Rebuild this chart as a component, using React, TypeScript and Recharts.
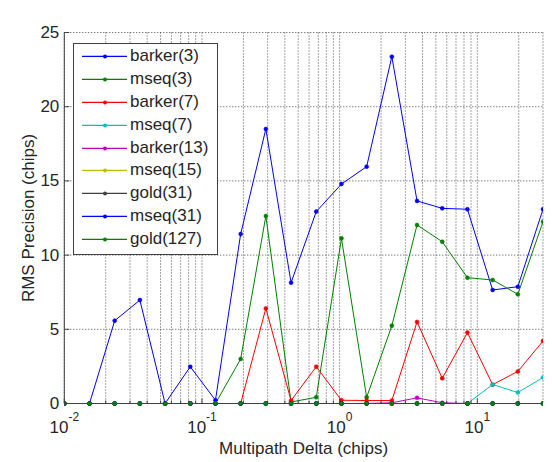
import React from 'react';
import { LineChart, Line, XAxis, YAxis, CartesianGrid, Legend } from 'recharts';

// Multipath delta (chips), log-spaced sample points
const delta = [0.01, 0.01524, 0.02323, 0.0354, 0.05396, 0.08224, 0.1253, 0.191, 0.2911, 0.4437, 0.6763, 1.031, 1.571, 2.394, 3.649, 5.562, 8.476, 12.92, 19.69, 30];

const barker3 = [0, 0, 5.58, 6.97, 0, 2.48, 0.22, 11.42, 18.5, 8.14, 12.93, 14.79, 15.96, 23.37, 13.65, 13.15, 13.09, 7.65, 7.87, 13.09];
const mseq3 = [0, 0, 0, 0, 0, 0, 0, 3.0, 12.63, 0.1, 0.42, 11.13, 0.42, 5.24, 12.03, 10.9, 8.48, 8.32, 7.36, 12.25];
const barker7 = [0, 0, 0, 0, 0, 0, 0, 0, 6.41, 0.2, 2.48, 0.22, 0.2, 0.2, 5.5, 1.7, 4.78, 1.27, 2.16, 4.21];
const mseq7 = [0, 0, 0, 0, 0, 0, 0, 0, 0, 0, 0, 0, 0, 0, 0, 0, 0, 1.28, 0.74, 1.75];
const barker13 = [0, 0, 0, 0, 0, 0, 0, 0, 0, 0, 0, 0, 0, 0.05, 0.38, 0.05, 0, 0, 0, 0];
const mseq15 = [0, 0, 0, 0, 0, 0, 0, 0, 0, 0, 0, 0, 0, 0, 0, 0, 0, 0, 0, 0];
const gold31 = [0, 0, 0, 0, 0, 0, 0, 0, 0, 0, 0, 0, 0, 0, 0, 0, 0, 0, 0, 0];
const mseq31 = [0, 0, 0, 0, 0, 0, 0, 0, 0, 0, 0, 0, 0, 0, 0, 0, 0, 0, 0, 0];
const gold127 = [0, 0, 0, 0, 0, 0, 0, 0, 0, 0, 0, 0, 0, 0, 0, 0, 0, 0, 0, 0];

const seriesNames = ['barker(3)', 'mseq(3)', 'barker(7)', 'mseq(7)', 'barker(13)', 'mseq(15)', 'gold(31)', 'mseq(31)', 'gold(127)'];
const seriesKeys = ['barker3', 'mseq3', 'barker7', 'mseq7', 'barker13', 'mseq15', 'gold31', 'mseq31', 'gold127'];
const seriesValues = [barker3, mseq3, barker7, mseq7, barker13, mseq15, gold31, mseq31, gold127];
const seriesColors = ['#0000ff', '#008000', '#ff0000', '#00bfbf', '#bf00bf', '#bfbf00', '#404040', '#0000ff', '#008000'];

const xTicks = [0.01, 0.02, 0.03, 0.04, 0.05, 0.06, 0.07, 0.08, 0.09, 0.1, 0.2, 0.3, 0.4, 0.5, 0.6, 0.7, 0.8, 0.9, 1, 2, 3, 4, 5, 6, 7, 8, 9, 10, 20];
const decadeTicks = [0.01, 0.1, 1, 10];
const decadeExponents = ['-2', '-1', '0', '1'];
const yTicks = [0, 5, 10, 15, 20, 25];

const rows = delta.map((d, i) => {
  const r: any = { delta: d };
  seriesKeys.forEach((k, j) => {
    r[k] = seriesValues[j][i];
  });
  return r;
});

const FONT = "'Liberation Sans', Arial, Helvetica, sans-serif";
const TEXT = '#262626';
const AXIS = '#404040';

const BottomTick = (props: any) => {
  const { x, y, payload } = props;
  const idx = decadeTicks.indexOf(payload.value);
  const major = idx >= 0;
  return (
    <g>
      <line x1={x} x2={x} y1={y} y2={y - (major ? 5 : 3)} stroke={AXIS} strokeWidth={1} />
      {major && (
        <text x={x} y={y + 29.5} textAnchor="middle" fontFamily={FONT} fontSize={17} fill={TEXT}>
          <tspan>10</tspan>
          <tspan fontSize={12} dy={-12}>{decadeExponents[idx]}</tspan>
        </text>
      )}
    </g>
  );
};

const TopTick = (props: any) => {
  const { x, y, payload } = props;
  const major = decadeTicks.indexOf(payload.value) >= 0;
  return <line x1={x} x2={x} y1={y} y2={y + (major ? 5 : 3)} stroke={AXIS} strokeWidth={1} />;
};

const LeftTick = (props: any) => {
  const { x, y, payload } = props;
  return (
    <g>
      <line x1={x} x2={x + 5} y1={y} y2={y} stroke={AXIS} strokeWidth={1} />
      <text x={x - 5} y={y} textAnchor="end" dominantBaseline="central" fontFamily={FONT} fontSize={17} fill={TEXT}>
        {payload.value}
      </text>
    </g>
  );
};

const RightTick = (props: any) => {
  const { x, y } = props;
  return <line x1={x} x2={x - 5} y1={y} y2={y} stroke={AXIS} strokeWidth={1} />;
};

const renderLegend = (props: any) => {
  const payload = (props.payload || [])
    .slice()
    .sort((a: any, b: any) => seriesKeys.indexOf(a.dataKey) - seriesKeys.indexOf(b.dataKey));
  return (
    <div
      style={{
        width: 145,
        height: 212,
        boxSizing: 'border-box',
        border: `1px solid ${AXIS}`,
        background: '#fff',
        paddingTop: 1,
        fontFamily: FONT,
        fontSize: 17,
        color: TEXT,
      }}
    >
      {payload.map((entry: any, i: number) => (
        <div key={i} style={{ height: 22.9, display: 'flex', alignItems: 'center', whiteSpace: 'nowrap' }}>
          <svg width={56} height={22.9} style={{ flex: 'none' }}>
            <line x1={8} x2={53} y1={11.45} y2={11.45} stroke={entry.color} strokeWidth={1.2} />
            <circle cx={31} cy={11.45} r={2} fill={entry.color} />
          </svg>
          <span style={{ lineHeight: '22.9px' }}>{entry.value}</span>
        </div>
      ))}
    </div>
  );
};

export default function App() {
  return (
    <div style={{ position: 'absolute', left: 0, top: 0, width: 552, height: 462, background: '#fff' }}>
      <LineChart width={552} height={462} data={rows} margin={{ top: 32.5, right: 9, bottom: 0, left: 0 }}>
        <CartesianGrid stroke="#4a4a4a" strokeDasharray="1 2" strokeWidth={1} />
        <XAxis
          dataKey="delta"
          type="number"
          scale="log"
          domain={[0.01, 30]}
          ticks={xTicks}
          allowDataOverflow
          height={58.5}
          tickSize={0}
          tickMargin={0}
          tickLine={false}
          interval={0}
          axisLine={{ stroke: AXIS }}
          tick={<BottomTick />}
          label={{ value: 'Multipath Delta (chips)', position: 'insideBottom', offset: 8, fill: TEXT, fontSize: 17, fontFamily: FONT }}
        />
        <XAxis
          xAxisId="top"
          orientation="top"
          dataKey="delta"
          type="number"
          scale="log"
          domain={[0.01, 30]}
          ticks={xTicks}
          allowDataOverflow
          height={0}
          tickSize={0}
          tickMargin={0}
          tickLine={false}
          interval={0}
          axisLine={{ stroke: AXIS }}
          tick={<TopTick />}
          label={{ value: 'RMS Precision vs. Multipath Delta', position: 'top', offset: 12, fill: TEXT, fontSize: 17, fontFamily: FONT }}
        />
        <YAxis
          type="number"
          domain={[0, 25]}
          ticks={yTicks}
          width={64.3}
          tickSize={0}
          tickMargin={0}
          tickLine={false}
          interval={0}
          axisLine={{ stroke: AXIS }}
          tick={<LeftTick />}
          label={{ value: 'RMS Precision (chips)', angle: -90, position: 'insideLeft', offset: 28, fill: TEXT, fontSize: 17, fontFamily: FONT, style: { textAnchor: 'middle' } }}
        />
        <YAxis
          yAxisId="right"
          orientation="right"
          type="number"
          domain={[0, 25]}
          ticks={yTicks}
          width={0}
          tickSize={0}
          tickMargin={0}
          tickLine={false}
          interval={0}
          axisLine={{ stroke: AXIS }}
          tick={<RightTick />}
        />
        <Legend
          layout="vertical"
          align="center"
          verticalAlign="middle"
          content={renderLegend}
          wrapperStyle={{ position: 'absolute', left: 73, top: 43, width: 145, height: 212 }}
        />
        {seriesKeys.map((k, j) => (
          <Line
            key={k}
            type="linear"
            dataKey={k}
            name={seriesNames[j]}
            stroke={seriesColors[j]}
            strokeWidth={1}
            dot={{ r: 2, fill: seriesColors[j], stroke: seriesColors[j], strokeWidth: 0.5 }}
            activeDot={false}
            isAnimationActive={false}
          />
        ))}
      </LineChart>
    </div>
  );
}
